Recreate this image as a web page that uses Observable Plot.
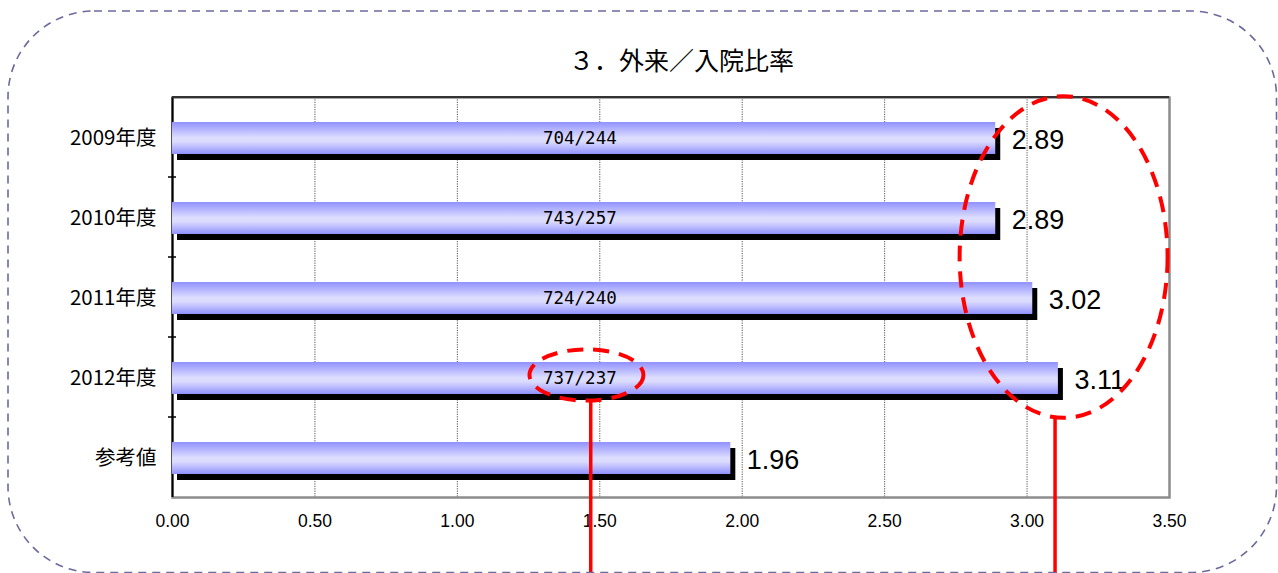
<!DOCTYPE html>
<html>
<head>
<meta charset="utf-8">
<script src="https://cdn.jsdelivr.net/npm/d3@7"></script>
<script src="https://cdn.jsdelivr.net/npm/@observablehq/plot@0.6"></script>
<style>
  html, body { margin: 0; padding: 0; background: #fff; }
  #wrap { position: relative; width: 1278px; height: 573px; overflow: hidden; }
  #title { position: absolute; left: 0; top: 0; width: 1278px; height: 80px;
           font-family: "Noto Sans CJK JP", sans-serif; font-size: 25px; color: #000; }
  #title span { position: absolute; left: 569px; top: 44px; line-height: 30px; white-space: nowrap; }
  #chart { position: absolute; left: 0; top: 80px; }
  #border { position: absolute; left: 0; top: 0; pointer-events: none; }
</style>
</head>
<body>
<div id="wrap">
  <div id="title"><span>３．外来／入院比率</span></div>
  <div id="chart"></div>
  <svg id="border" width="1278" height="573"></svg>
</div>
<script>
const categories = ["2009年度", "2010年度", "2011年度", "2012年度", "参考値"];
const ratios = [2.89, 2.89, 3.02, 3.11, 1.96];
const counts = ["704/244", "743/257", "724/240", "737/237", ""];
const xTicks = [0, 0.5, 1.0, 1.5, 2.0, 2.5, 3.0, 3.5];
const gridTicks = [0.5, 1.0, 1.5, 2.0, 2.5, 3.0];

const data = categories.map((c, i) => ({cat: c, value: ratios[i], count: counts[i]}));

const chart = Plot.plot({
  width: 1278,
  height: 493,
  marginTop: 17,
  marginBottom: 76,
  marginLeft: 172,
  marginRight: 109,
  style: {fontFamily: "Liberation Sans, Arial, sans-serif", background: "transparent"},
  x: {domain: [0, 3.5], axis: null},
  y: {domain: categories, padding: 0, axis: null},
  marks: [
    Plot.ruleX(gridTicks, {stroke: "#555", strokeDasharray: "1.2,1.2", strokeWidth: 1}),
    Plot.frame({stroke: "#8c8c8c", strokeWidth: 2.5}),
    Plot.ruleX([0], {stroke: "#000", strokeWidth: 2}),
    Plot.barX(data, {x: "value", y: "cat", fill: "#000", insetTop: 25, insetBottom: 23, dx: 5, dy: 6}),
    Plot.barX(data, {x: "value", y: "cat", fill: "url(#barGrad)", insetTop: 25, insetBottom: 23}),
    Plot.text(data.filter(d => d.count), {x: () => 1.43, y: "cat", text: "count", dy: 1,
      fontFamily: "DejaVu Sans Mono, Liberation Mono, monospace", fontSize: 17.5, fill: "#000"}),
    Plot.text(data, {x: "value", y: "cat", text: d => d.value.toFixed(2), textAnchor: "start",
      dx: 16, dy: 3, fontFamily: "Liberation Sans, Arial, sans-serif", fontSize: 27, fill: "#000"}),
    Plot.text(categories, {y: d => d, frameAnchor: "left", textAnchor: "end", dx: -16, dy: 1,
      fontFamily: "Noto Sans CJK JP, sans-serif", fontSize: 20.5, fill: "#000"}),
    Plot.text(xTicks, {x: d => d, frameAnchor: "bottom", dy: 29, text: d => d.toFixed(2),
      fontFamily: "Liberation Sans, Arial, sans-serif", fontSize: 17.5, fill: "#000"})
  ]
});
document.getElementById("chart").appendChild(chart);

const svg = d3.select(chart);
const defs = svg.insert("defs", ":first-child");
const g = defs.append("linearGradient").attr("id", "barGrad")
  .attr("x1", 0).attr("y1", 0).attr("x2", 0).attr("y2", 1);
g.append("stop").attr("offset", "0%").attr("stop-color", "#9191ff");
g.append("stop").attr("offset", "50%").attr("stop-color", "#dedeff");
g.append("stop").attr("offset", "62%").attr("stop-color", "#dadaff");
g.append("stop").attr("offset", "100%").attr("stop-color", "#9191ff");

const xs = chart.scale("x"), ys = chart.scale("y");
const X = v => xs.apply(v), Y = c => ys.apply(c), bw = ys.bandwidth;
const top0 = Y(categories[0]);

// dark top edge of the plot frame
svg.append("line").attr("x1", X(0)).attr("x2", X(3.5)).attr("y1", top0).attr("y2", top0)
  .attr("stroke", "#333").attr("stroke-width", 2);

// small ticks at the band boundaries on the left axis
const tickLayer = svg.append("g");
categories.slice(1).forEach(c => {
  tickLayer.append("line").attr("x1", X(0) - 4).attr("x2", X(0) + 4)
    .attr("y1", Y(c)).attr("y2", Y(c)).attr("stroke", "#000").attr("stroke-width", 1.5);
});

// red annotations
const ann = svg.append("g").attr("fill", "none").attr("stroke", "#ff0000");
const bigCx = X(3.13), bigCy = (Y(categories[0]) + Y(categories[3]) + bw) / 2;
const bigRx = X(3.13 + 0.365) - X(3.13), bigRy = 2.01 * bw;
ann.append("ellipse").attr("cx", bigCx).attr("cy", bigCy).attr("rx", bigRx).attr("ry", bigRy)
  .attr("stroke-width", 4).attr("stroke-dasharray", "16,10");
const smCx = X(1.455), smCy = Y(categories[3]) + bw / 2 - 2;
const smRx = X(1.455 + 0.2) - X(1.455), smRy = 0.32 * bw;
ann.append("ellipse").attr("cx", smCx).attr("cy", smCy).attr("rx", smRx).attr("ry", smRy)
  .attr("stroke-width", 4).attr("stroke-dasharray", "16,10");
ann.append("line").attr("x1", X(1.47)).attr("x2", X(1.47))
  .attr("y1", smCy + smRy - 1).attr("y2", 493).attr("stroke-width", 3.5);
ann.append("line").attr("x1", X(3.10)).attr("x2", X(3.10))
  .attr("y1", bigCy + bigRy - 2).attr("y2", 493).attr("stroke-width", 3.5);

// rounded dashed outer border
d3.select("#border").append("rect")
  .attr("x", 8).attr("y", 11).attr("width", 1268.5).attr("height", 561.5)
  .attr("rx", 86).attr("ry", 86)
  .attr("fill", "none").attr("stroke", "#6a6a9e").attr("stroke-width", 1.6)
  .attr("stroke-dasharray", "8,6");
</script>
</body>
</html>
